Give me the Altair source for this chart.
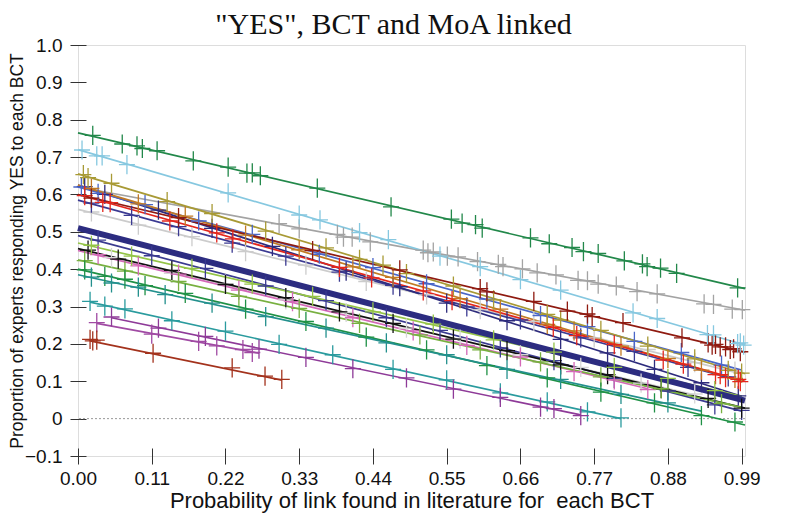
import altair as alt
import pandas as pd

TITLE = '"YES", BCT and MoA linked'
X_TITLE = "Probability of link found in literature for\u00a0 each BCT"
Y_TITLE = "Proportion of experts responding YES to each BCT"
X_TICKS = [0.0, 0.11, 0.22, 0.33, 0.44, 0.55, 0.66, 0.77, 0.88, 0.99]
Y_TICKS = [-0.1, 0.0, 0.1, 0.2, 0.3, 0.4, 0.5, 0.6, 0.7, 0.8, 0.9, 1.0]

SERIES = ["lightgray2", "lightgray1", "gray", "navy3", "navy2", "navy1", "royalblue", "goldenrod",
          "olive", "red", "darkred", "skyblue", "darkgreen", "black", "pink", "yellowgreen1",
          "yellowgreen2", "green", "teal1", "teal2", "purple1", "purple2", "sienna"]
COLORS = ["#d6d6d6", "#cccccc", "#a3a3a3", "#3a3a90", "#3b3a92", "#2d2b7c", "#4a66c8", "#c27a23",
          "#a89a35", "#e4261c", "#8f1a10", "#86c8e0", "#22884a", "#111111", "#d468b8", "#94c447",
          "#78b040", "#1f9146", "#23908d", "#2a9b9e", "#8e3a98", "#a04aa3", "#a3321c"]

# fitted line end points per series
LINE_X0 = [0.0, 0.0, 0.0, 0.0, 0.0, 0.0, 0.0, 0.0, 0.0, 0.0, 0.0, 0.0, 0.0, 0.0, 0.0, 0.0,
           0.0, 0.0, 0.0, 0.018, 0.05, 0.028, 0.018]
LINE_Y0 = [0.45, 0.56, 0.62, 0.49, 0.585, 0.625, 0.62, 0.625, 0.655, 0.60, 0.60, 0.72, 0.765,
           0.455, 0.45, 0.47, 0.425, 0.40, 0.385, 0.312, 0.27, 0.255, 0.208]
LINE_X1 = [0.92, 0.99, 0.995, 0.99, 0.99, 0.99, 0.99, 0.99, 0.995, 0.995, 0.995, 0.995, 0.995,
           0.995, 0.85, 0.99, 0.99, 0.995, 0.93, 0.81, 0.75, 0.27, 0.304]
LINE_Y1 = [0.064, 0.12, 0.29, 0.02, 0.10, 0.06, 0.13, 0.10, 0.12, 0.10, 0.178, 0.197, 0.348,
           0.028, 0.08, 0.06, 0.03, -0.017, 0.02, 0.0, 0.01, 0.175, 0.103]

# overall (thick) regression line
OVERALL_X = [0.0, 0.995]
OVERALL_Y = [0.51, 0.048]

PTS_X = {
    "darkgreen": [0.022, 0.066, 0.088, 0.096, 0.118, 0.172, 0.224, 0.252, 0.260, 0.272, 0.357, 0.467,
                  0.557, 0.573, 0.593, 0.603, 0.675, 0.703, 0.737, 0.754, 0.776, 0.815, 0.842, 0.849,
                  0.869, 0.893, 0.984],
    "gray": [0.30, 0.33, 0.387, 0.396, 0.409, 0.436, 0.515, 0.522, 0.530, 0.551, 0.567, 0.596, 0.627,
             0.634, 0.663, 0.685, 0.713, 0.746, 0.760, 0.776, 0.803, 0.834, 0.864, 0.934, 0.948,
             0.976, 0.991],
    "skyblue": [0.006, 0.028, 0.036, 0.073, 0.224, 0.33, 0.361, 0.42, 0.463, 0.54, 0.60, 0.66, 0.72,
                0.828, 0.864, 0.939, 0.948, 0.984, 0.988, 0.993],
    "darkred": [0.02, 0.15, 0.35, 0.48, 0.60, 0.61, 0.68, 0.730, 0.760, 0.767, 0.813, 0.901, 0.940,
                0.946, 0.951, 0.958, 0.966, 0.973, 0.978, 0.988],
    "red": [0.01, 0.037, 0.048, 0.137, 0.207, 0.231, 0.39, 0.438, 0.515, 0.558, 0.709, 0.744, 0.80,
            0.873, 0.903, 0.951, 0.958, 0.966, 0.985, 0.988],
    "olive": [0.008, 0.015, 0.05, 0.133, 0.2, 0.28, 0.37, 0.42, 0.455, 0.49, 0.56, 0.62, 0.70, 0.72,
              0.78, 0.85, 0.92, 0.97, 0.99],
    "goldenrod": [0.02, 0.09, 0.16, 0.25, 0.33, 0.41, 0.47, 0.57, 0.63, 0.70, 0.74, 0.81, 0.88, 0.93,
                  0.98],
    "royalblue": [0.005, 0.03, 0.10, 0.18, 0.26, 0.36, 0.44, 0.52, 0.61, 0.69, 0.76, 0.83, 0.90, 0.96],
    "navy1": [0.01, 0.04, 0.12, 0.20, 0.29, 0.40, 0.48, 0.55, 0.64, 0.72, 0.79, 0.86, 0.93, 0.985],
    "navy2": [0.02, 0.08, 0.15, 0.23, 0.31, 0.39, 0.47, 0.58, 0.66, 0.75, 0.83, 0.91, 0.97],
    "navy3": [0.03, 0.11, 0.19, 0.28, 0.37, 0.46, 0.54, 0.63, 0.71, 0.80, 0.88, 0.95, 0.99],
    "lightgray1": [0.02, 0.09, 0.17, 0.25, 0.34, 0.43, 0.52, 0.60, 0.68, 0.77, 0.85, 0.92, 0.98],
    "lightgray2": [0.05, 0.14, 0.22, 0.31, 0.40, 0.49, 0.57, 0.66, 0.75, 0.84, 0.92],
    "black": [0.015, 0.06, 0.14, 0.22, 0.31, 0.39, 0.47, 0.56, 0.64, 0.72, 0.79, 0.87, 0.94, 0.99],
    "pink": [0.03, 0.09, 0.15, 0.24, 0.32, 0.41, 0.50, 0.58, 0.66, 0.74, 0.80, 0.85],
    "yellowgreen1": [0.02, 0.08, 0.17, 0.26, 0.35, 0.44, 0.53, 0.62, 0.71, 0.80, 0.88, 0.95],
    "yellowgreen2": [0.01, 0.07, 0.15, 0.24, 0.33, 0.42, 0.51, 0.60, 0.69, 0.78, 0.87, 0.96],
    "green": [0.01, 0.04, 0.07, 0.10, 0.16, 0.25, 0.34, 0.43, 0.52, 0.61, 0.70, 0.78, 0.86, 0.93, 0.98],
    "teal1": [0.02, 0.05, 0.09, 0.13, 0.20, 0.28, 0.37, 0.46, 0.55, 0.64, 0.72, 0.81, 0.88],
    "teal2": [0.018, 0.04, 0.07, 0.14, 0.22, 0.30, 0.38, 0.47, 0.55, 0.63, 0.70, 0.76, 0.81],
    "purple1": [0.05, 0.12, 0.19, 0.27, 0.34, 0.41, 0.49, 0.56, 0.63, 0.69, 0.71, 0.75],
    "purple2": [0.028, 0.11, 0.18, 0.207, 0.246, 0.26],
    "sienna": [0.018, 0.022, 0.028, 0.112, 0.23, 0.279, 0.304],
}
PTS_Y = {
    "darkgreen": [0.758, 0.735, 0.730, 0.723, 0.717, 0.690, 0.673, 0.657, 0.658, 0.650, 0.617, 0.567,
                  0.534, 0.523, 0.519, 0.510, 0.484, 0.468, 0.458, 0.447, 0.442, 0.422, 0.414, 0.407,
                  0.403, 0.389, 0.350],
    "gray": [0.522, 0.508, 0.493, 0.486, 0.486, 0.473, 0.451, 0.444, 0.446, 0.435, 0.433, 0.420, 0.413,
             0.407, 0.401, 0.390, 0.385, 0.370, 0.369, 0.360, 0.355, 0.340, 0.334, 0.307, 0.306,
             0.293, 0.292],
    "skyblue": [0.719, 0.703, 0.703, 0.680, 0.604, 0.545, 0.532, 0.498, 0.479, 0.435, 0.407, 0.372,
                0.344, 0.283, 0.268, 0.225, 0.224, 0.201, 0.203, 0.197],
    "darkred": [0.590, 0.538, 0.450, 0.398, 0.348, 0.339, 0.314, 0.288, 0.280, 0.273, 0.257, 0.216,
                0.203, 0.197, 0.199, 0.192, 0.192, 0.185, 0.187, 0.179],
    "red": [0.597, 0.579, 0.578, 0.529, 0.497, 0.481, 0.405, 0.377, 0.342, 0.316, 0.244, 0.222, 0.198,
            0.157, 0.146, 0.118, 0.118, 0.110, 0.105, 0.099],
    "olive": [0.653, 0.645, 0.630, 0.581, 0.549, 0.502, 0.457, 0.426, 0.411, 0.388, 0.355, 0.318, 0.279,
              0.264, 0.236, 0.194, 0.160, 0.129, 0.122],
    "goldenrod": [0.616, 0.575, 0.542, 0.491, 0.452, 0.406, 0.378, 0.321, 0.293, 0.252, 0.235, 0.194,
                  0.161, 0.130, 0.108],
    "royalblue": [0.620, 0.603, 0.573, 0.529, 0.493, 0.440, 0.404, 0.361, 0.320, 0.276, 0.246, 0.207,
                  0.177, 0.143],
    "navy1": [0.621, 0.600, 0.558, 0.509, 0.461, 0.395, 0.353, 0.309, 0.262, 0.212, 0.176, 0.132,
              0.096, 0.061],
    "navy2": [0.577, 0.544, 0.514, 0.470, 0.435, 0.392, 0.357, 0.299, 0.264, 0.216, 0.180, 0.137, 0.112],
    "navy3": [0.478, 0.436, 0.402, 0.355, 0.316, 0.270, 0.236, 0.189, 0.155, 0.108, 0.074, 0.037, 0.022],
    "lightgray1": [0.553, 0.518, 0.487, 0.447, 0.411, 0.367, 0.331, 0.292, 0.260, 0.216, 0.185, 0.150,
                   0.127],
    "lightgray2": [0.431, 0.389, 0.360, 0.318, 0.284, 0.242, 0.213, 0.171, 0.137, 0.095, 0.066],
    "black": [0.451, 0.427, 0.397, 0.359, 0.324, 0.286, 0.255, 0.213, 0.182, 0.144, 0.118, 0.080,
              0.054, 0.028],
    "pink": [0.439, 0.409, 0.387, 0.344, 0.313, 0.270, 0.235, 0.196, 0.165, 0.126, 0.104, 0.078],
    "yellowgreen1": [0.464, 0.435, 0.402, 0.360, 0.327, 0.286, 0.253, 0.211, 0.178, 0.137, 0.108, 0.075],
    "yellowgreen2": [0.423, 0.395, 0.367, 0.327, 0.295, 0.255, 0.224, 0.184, 0.152, 0.112, 0.080, 0.040],
    "green": [0.398, 0.381, 0.373, 0.356, 0.335, 0.293, 0.260, 0.218, 0.184, 0.142, 0.109, 0.071, 0.042,
              0.008, -0.009],
    "teal1": [0.379, 0.363, 0.352, 0.332, 0.309, 0.273, 0.242, 0.203, 0.171, 0.132, 0.105, 0.065, 0.042],
    "teal2": [0.314, 0.301, 0.294, 0.262, 0.234, 0.199, 0.171, 0.132, 0.104, 0.069, 0.045, 0.018, 0.002],
    "purple1": [0.272, 0.242, 0.220, 0.186, 0.164, 0.134, 0.109, 0.079, 0.057, 0.031, 0.027, 0.008],
    "purple2": [0.257, 0.226, 0.207, 0.195, 0.185, 0.177],
    "sienna": [0.212, 0.208, 0.210, 0.175, 0.136, 0.114, 0.105],
}

line_rows = []
for i, s in enumerate(SERIES):
    line_rows.append({"series": s, "x": LINE_X0[i], "y": LINE_Y0[i]})
    line_rows.append({"series": s, "x": LINE_X1[i], "y": LINE_Y1[i]})
line_df = pd.DataFrame(line_rows)

pt_rows = []
for s in SERIES:
    for xv, yv in zip(PTS_X[s], PTS_Y[s]):
        pt_rows.append({"series": s, "x": xv, "y": yv})
pt_df = pd.DataFrame(pt_rows)

overall_df = pd.DataFrame({"x": OVERALL_X, "y": OVERALL_Y})
zero_df = pd.DataFrame({"y": [0.0]})

FONT = "Liberation Sans"

X = alt.X("x:Q",
          scale=alt.Scale(domain=[0, 0.995], nice=False, zero=False),
          axis=alt.Axis(values=X_TICKS, format=".2f", tickSize=16, offset=-8, domain=False,
                        grid=False, tickColor="#333", tickWidth=1, labelFont=FONT,
                        labelFontSize=19, labelColor="#111", labelPadding=5, labelFlush=False,
                        title=X_TITLE, titleFont=FONT, titleFontSize=22,
                        titleFontWeight="normal", titleColor="#111", titlePadding=2))
Y = alt.Y("y:Q",
          scale=alt.Scale(domain=[-0.1, 1.0], nice=False, zero=False),
          axis=alt.Axis(values=Y_TICKS,
                        labelExpr="abs(datum.value) < 1e-9 ? '0' : format(datum.value, '.1f')",
                        tickSize=16, offset=-8, domain=False, grid=False, tickColor="#333",
                        tickWidth=1, labelFont=FONT, labelFontSize=19, labelColor="#111",
                        labelPadding=8, labelFlush=False, title=Y_TITLE, titleFont=FONT,
                        titleFontSize=17.5, titleFontWeight="normal", titleColor="#111",
                        titlePadding=-2))
C = alt.Color("series:N", scale=alt.Scale(domain=SERIES, range=COLORS), legend=None)

PLUS = "M-1,0L1,0M0,-1.2L0,1.2"

zero_line = alt.Chart(zero_df).mark_rule(color="#999999", strokeDash=[2, 2], strokeWidth=1).encode(
    y=Y)
lines = alt.Chart(line_df).mark_line(strokeWidth=1.7).encode(x=X, y=Y, color=C, detail="series:N")
overall = alt.Chart(overall_df).mark_line(strokeWidth=6, color="#2c2c80").encode(x=X, y=Y)
points = alt.Chart(pt_df).mark_point(shape=PLUS, size=256, strokeWidth=1.3, filled=False,
                                     opacity=1).encode(x=X, y=Y, color=C)

chart = alt.layer(zero_line, lines, overall, points).properties(
    width=667, height=411,
    title=alt.Title(TITLE, font="Liberation Serif", fontSize=30, fontWeight="normal",
                    color="#111", offset=-4, dx=-18),
    padding={"left": 70, "top": 37, "right": 33, "bottom": 57},
    autosize=alt.AutoSizeParams(type="none"),
).configure_view(stroke="#222", strokeWidth=1.3).configure(background="white")

chart.save("out.html", embed_options={"renderer": "svg", "actions": False})
